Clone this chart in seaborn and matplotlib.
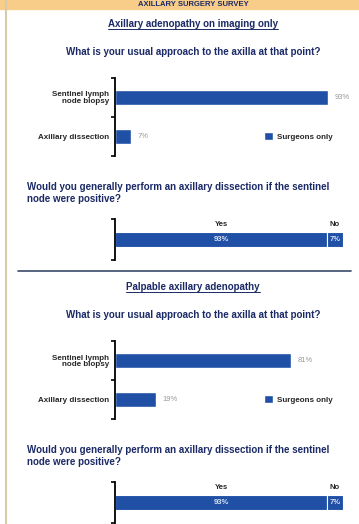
import matplotlib
matplotlib.use("Agg")
import matplotlib.pyplot as plt
from matplotlib.lines import Line2D
from matplotlib.patches import Rectangle
import seaborn as sns
import pandas as pd

sns.set_style("white")
plt.rcParams['font.family'] = ['Liberation Sans Narrow', 'Liberation Sans', 'DejaVu Sans']

# ---------------------------------------------------------------------
# data
approaches = ["Sentinel lymph\nnode biopsy", "Axillary dissection"]
imaging_only = [93, 7]
palpable = [81, 19]
answers = ["Yes", "No"]
imaging_yes_no = [93, 7]
palpable_yes_no = [93, 7]

section_titles = ["Axillary adenopathy on imaging only", "Palpable axillary adenopathy"]
q1 = "What is your usual approach to the axilla at that point?"
q2 = "Would you generally perform an axillary dissection if the sentinel\nnode were positive?"

BLUE = "#1f50a6"
NAVY = "#1b2a66"
GREY = "#9a9a9a"

W, H = 359, 524
fig = plt.figure(figsize=(W / 100, H / 100), dpi=100)


def box(x, y, w, h):
    # pixel box (top-left origin) -> figure fraction
    return [x / W, 1 - (y + h) / H, w / W, h / H]


def fy(y):
    return 1 - y / H


# header band and frame
fig.patches.append(Rectangle((0, fy(9)), 1, 9 / H, transform=fig.transFigure,
                             color="#f8cd8a", zorder=0))
fig.text(193 / W, fy(4.5), "AXILLARY SURGERY SURVEY", ha="center", va="center",
         fontsize=5.5, weight="bold", color=NAVY)
fig.lines.append(Line2D([6 / W, 6 / W], [0, 1], transform=fig.transFigure,
                        color="#d9cba8", lw=1.5))
fig.lines.append(Line2D([18 / W, 351 / W], [fy(271), fy(271)], transform=fig.transFigure,
                        color="#3a4a6a", lw=1.2))


def style_axis(ax):
    ax.set_xticks([])
    for s in ["top", "right", "bottom"]:
        ax.spines[s].set_visible(False)
    ax.spines["left"].set_linewidth(1.3)
    ax.spines["left"].set_color("black")
    ax.tick_params(axis="y", which="minor", left=True, length=3, width=1.2,
                   direction="out", color="black")


def bar_chart(top, values, scale_px):
    ax = fig.add_axes(box(115, top, scale_px, 78))
    df = pd.DataFrame({"approach": approaches, "pct": values})
    sns.barplot(data=df, x="pct", y="approach", color=BLUE, saturation=1,
                width=0.38, ax=ax, label="Surgeons only")
    ax.set_xlim(0, 100)
    ax.set_ylim(1.5, -0.5)
    ax.set_xlabel("")
    ax.set_ylabel("")
    for i, v in enumerate(values):
        ax.text(v + 3, i, f"{v}%", va="center", ha="left", fontsize=5.5, color=GREY)
    ax.tick_params(axis="y", which="major", length=0, pad=4, labelsize=5.8)
    for lab in ax.get_yticklabels():
        lab.set_fontweight("bold")
        lab.set_linespacing(0.9)
    ax.set_yticks([-0.5, 0.5, 1.5], minor=True)
    style_axis(ax)
    ax.legend(loc="center left", bbox_to_anchor=(142 / scale_px, 0.25), frameon=False,
              handlelength=1.1, handleheight=1.1, handletextpad=0.5,
              prop={"weight": "bold", "size": 5.8})
    return ax


def yes_no_chart(top, values):
    ax = fig.add_axes(box(115, top, 228, 41))
    ax.barh([0], [values[0]], height=0.36, color=BLUE, edgecolor="white", lw=0.8)
    ax.barh([0], [values[1]], left=[values[0]], height=0.36, color=BLUE,
            edgecolor="white", lw=0.8)
    ax.set_xlim(0, 100)
    ax.set_ylim(0.5, -0.5)
    ax.text(values[0] / 2, 0, f"{values[0]}%", ha="center", va="center",
            fontsize=5.5, color="#d8e0f0", weight="bold")
    ax.text(values[0] + values[1] / 2, 0, f"{values[1]}%", ha="center", va="center",
            fontsize=5.5, color="#d8e0f0", weight="bold")
    ax.text(values[0] / 2, -0.36, answers[0], ha="center", va="center",
            fontsize=5.5, weight="bold")
    ax.text(values[0] + values[1] / 2, -0.36, answers[1], ha="center", va="center",
            fontsize=5.5, weight="bold")
    ax.set_yticks([])
    ax.set_yticks([-0.5, 0.5], minor=True)
    style_axis(ax)
    return ax


def section(y0, title, values, scale_px, yes_no):
    t = fig.text(193 / W, fy(y0), title, ha="center", va="center", fontsize=7,
                 weight="bold", color=NAVY)
    # underline
    fig.canvas.draw()
    bb = t.get_window_extent().transformed(fig.transFigure.inverted())
    fig.lines.append(Line2D([bb.x0, bb.x1], [bb.y0, bb.y0], transform=fig.transFigure,
                            color=NAVY, lw=0.7))
    fig.text(193 / W, fy(y0 + 28), q1, ha="center", va="center", fontsize=7,
             weight="bold", color=NAVY)
    bar_chart(y0 + 54, values, scale_px)
    fig.text(27 / W, fy(y0 + 169), q2, ha="left", va="center", fontsize=7,
             weight="bold", color=NAVY, linespacing=1.3)
    yes_no_chart(y0 + 195, yes_no)


section(24, section_titles[0], imaging_only, 229, imaging_yes_no)
section(287, section_titles[1], palpable, 217, palpable_yes_no)

fig.savefig("out.png", dpi=100)
